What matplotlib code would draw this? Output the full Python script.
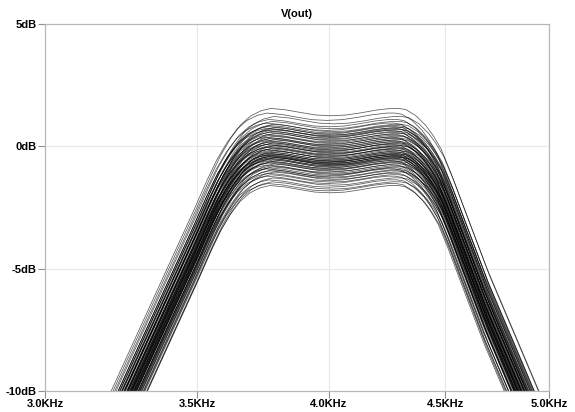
import numpy as np
import matplotlib
matplotlib.use("Agg")
import matplotlib.pyplot as plt
from matplotlib.ticker import FixedLocator, NullLocator

# Nominalna charakterystyka, Hz / dB
freq_hz = [3046, 3140, 3211, 3303, 3398, 3496, 3546, 3582, 3619, 3656, 3693,
           3730, 3768, 3826, 3885, 3944, 4005, 4066, 4128, 4192, 4256, 4290,
           4321, 4365, 4409, 4441, 4477, 4523, 4578, 4691, 4816, 4944, 5051, 5133]
nominal_db = [-16.25, -13.55, -11.55, -9.05, -6.55, -4.05, -2.75, -1.90, -1.20,
              -0.65, -0.30, -0.10, 0.00, -0.06, -0.17, -0.27, -0.30, -0.27,
              -0.18, -0.07, 0.00, 0.00, -0.05, -0.30, -0.70, -1.10, -1.65,
              -2.65, -3.95, -6.55, -9.05, -11.55, -13.55, -15.05]

# Przesuniecia wzmocnienia dla kolejnych przebiegow Monte Carlo (dB)
run_offsets_db = [1.55, 1.36, 1.22, 1.10, 1.02, 0.95, 0.90, 0.85, 0.81, 0.77,
                  0.74, 0.71, 0.68, 0.65, 0.61, 0.57, 0.53, 0.49, 0.45, 0.41,
                  0.37, 0.34, 0.31, 0.27, 0.24, 0.20, 0.17, 0.14, 0.11, 0.08,
                  0.05, 0.02, -0.01, -0.04, -0.07, -0.10, -0.13, -0.16, -0.19,
                  -0.22, -0.25, -0.28, -0.30, -0.32, -0.34, -0.36, -0.38, -0.40,
                  -0.42, -0.44, -0.46, -0.48, -0.50, -0.53, -0.56, -0.59, -0.62,
                  -0.65, -0.68, -0.72, -0.76, -0.80, -0.84, -0.88, -0.92, -0.96,
                  -1.00, -1.05, -1.10, -1.16, -1.22, -1.29, -1.37, -1.45, -1.52,
                  -1.60]
# Wzgledne przesuniecia czestotliwosci tych przebiegow (%)
run_shift_pct = [0.1, -0.3, 0.4, -0.1, 0.2, -0.4, 0.3, 0.0, -0.2, 0.4,
                 -0.3, 0.1, 0.3, -0.4, 0.2, -0.1, 0.4, -0.2, 0.0, 0.3,
                 -0.4, 0.2, -0.1, 0.4, -0.3, 0.1, -0.2, 0.3, 0.0, -0.4,
                 0.2, 0.4, -0.1, -0.3, 0.3, 0.1, -0.4, 0.0, 0.4, -0.2,
                 0.2, -0.3, 0.1, 0.4, -0.1, -0.4, 0.3, 0.0, -0.2, 0.2,
                 0.4, -0.3, 0.1, -0.1, 0.3, -0.4, 0.2, 0.0, -0.2, 0.4,
                 -0.3, 0.1, 0.3, -0.1, -0.4, 0.2, 0.0, 0.4, -0.2, 0.1,
                 -0.3, 0.3, -0.1, 0.2, -0.2, 0.0]

xticks = [3000, 3500, 4000, 4500, 5000]
xlabels = ['3.0KHz', '3.5KHz', '4.0KHz', '4.5KHz', '5.0KHz']
yticks = [-10, -5, 0, 5]
ylabels = ['-10dB', '-5dB', '0dB', '5dB']

plt.rcParams['font.family'] = ['Liberation Sans', 'DejaVu Sans']

fig = plt.figure(figsize=(5.75, 4.12), dpi=100)
ax = fig.add_axes([45 / 575, 1 - 391 / 412, 504 / 575, 367 / 412])

f = np.array(freq_hz)
base = np.array(nominal_db)
for off, sh in zip(run_offsets_db, run_shift_pct):
    ax.plot(f * (1 + sh / 100), base + off, color='black', linewidth=0.55, alpha=0.65)

ax.set_xscale('log')
ax.set_xlim(3000, 5000)
ax.set_ylim(-10, 5)
ax.xaxis.set_major_locator(FixedLocator(xticks))
ax.xaxis.set_minor_locator(NullLocator())
ax.set_xticklabels(xlabels)
ax.set_yticks(yticks)
ax.set_yticklabels(ylabels)

for lab in ax.get_xticklabels() + ax.get_yticklabels():
    lab.set_fontweight('bold')
    lab.set_fontsize(8)

ax.grid(True, color='#e8e8e8', linewidth=0.8)
ax.set_axisbelow(True)
for sp in ax.spines.values():
    sp.set_color('#b8b8b8')
    sp.set_linewidth(0.9)
ax.tick_params(axis='both', length=5, width=0.8, color='#909090', pad=1)

ax.set_title('V(out)', fontsize=8, fontweight='bold', pad=5)

fig.savefig('out.png', dpi=100)
